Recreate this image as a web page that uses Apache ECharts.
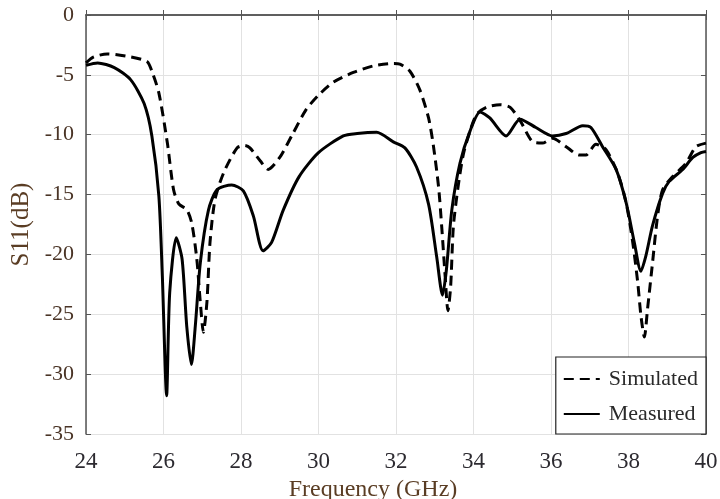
<!DOCTYPE html>
<html><head><meta charset="utf-8">
<script src="https://cdn.jsdelivr.net/npm/echarts@6/dist/echarts.min.js"></script>
<style>html,body{margin:0;padding:0;background:#fff}#c{width:720px;height:499px}</style>
</head><body><div id="c"></div>
<script>
var simFreq = [24,24.2,24.55,25.15,25.58,25.7,25.88,26.1,26.26,26.4,26.6,26.73,26.86,26.95,27.03,27.12,27.2,27.33,27.55,27.9,28.1,28.23,28.5,28.7,29.0,29.34,29.68,30.0,30.39,30.9,31.42,31.93,32.1,32.36,32.62,32.84,32.96,33.1,33.18,33.27,33.34,33.41,33.48,33.6,33.74,33.91,34.08,34.34,34.69,34.94,35.2,35.53,35.78,36.04,36.39,36.73,36.9,37.16,37.42,37.72,37.94,38.11,38.24,38.32,38.41,38.49,38.62,38.75,38.88,39.14,39.48,39.74,40];
var simS11 = [-4.0,-3.5,-3.25,-3.5,-3.9,-4.7,-6.5,-10.7,-14.6,-15.8,-16.25,-17.4,-20.4,-24,-26.5,-24,-19,-15.4,-13.2,-11.1,-10.9,-11.1,-12.2,-12.9,-11.9,-9.9,-7.9,-6.7,-5.6,-4.8,-4.25,-4.05,-4.1,-4.7,-6.3,-8.6,-10.8,-14.4,-17.7,-21.9,-24.7,-22.7,-17.7,-14.4,-11.6,-9.7,-8.3,-7.7,-7.5,-7.7,-8.8,-10.6,-10.7,-10.3,-11,-11.7,-11.7,-10.8,-11.25,-13.2,-15.7,-19,-22.4,-25.1,-26.9,-24.6,-20.7,-16.8,-14.6,-13.5,-12.4,-11,-10.7];
var measFreq = [24.0,24.3,24.73,25.15,25.5,25.7,25.88,25.97,26.08,26.16,26.33,26.48,26.6,26.72,26.82,26.95,27.16,27.38,27.76,28.06,28.32,28.57,28.79,29.09,29.5,30.0,30.64,31.0,31.5,31.93,32.23,32.53,32.84,33.05,33.2,33.3,33.44,33.65,33.91,34.17,34.42,34.84,35.2,35.61,36.04,36.39,36.82,37.03,37.33,37.68,37.94,38.15,38.32,38.45,38.62,38.88,39.05,39.4,39.66,39.87,40];
var measS11 = [-4.2,-4.0,-4.4,-5.4,-7.4,-10.1,-15.1,-21.8,-31.8,-23.2,-18.6,-20.4,-26,-29.2,-26,-20.7,-16.3,-14.6,-14.2,-14.7,-16.8,-19.7,-19.0,-16.3,-13.5,-11.5,-10.1,-9.9,-9.8,-10.6,-11.1,-12.7,-15.8,-20.2,-23.4,-21.3,-16.3,-12.4,-9.7,-8.1,-8.6,-10.1,-8.7,-9.4,-10.1,-9.9,-9.25,-9.4,-11,-12.9,-15.7,-19,-21.4,-20.1,-17.6,-14.9,-13.9,-12.9,-11.9,-11.5,-11.4];
var xTicks = [24,26,28,30,32,34,36,38,40];
var yTicks = [0,-5,-10,-15,-20,-25,-30,-35];

function pairs(xs, ys){ return xs.map(function(x,i){ return [x, ys[i]]; }); }

var FONT = 'Liberation Serif';
var chart = echarts.init(document.getElementById('c'), null, {renderer:'canvas'});
var axisLineStyle = {color:'#555', width:1.5};
chart.setOption({
  animation:false,
  backgroundColor:'#fff',
  grid:{left:86, right:14, top:15, bottom:65, containLabel:false, outerBoundsMode:'none'},
  legend:{
    right:14, bottom:65, orient:'vertical',
    padding:[11,8,9,7], itemGap:13,
    itemWidth:36, itemHeight:18,
    backgroundColor:'#fff', borderColor:'#222', borderWidth:1.2, borderRadius:0,
    itemStyle:{opacity:0},
    textStyle:{fontFamily:FONT, fontSize:22, color:'#2a2a2a', padding:[0,0,0,4]},
    data:['Simulated','Measured']
  },
  xAxis:[{
    type:'value', min:24, max:40, interval:2,
    name:'Frequency (GHz)', nameLocation:'middle', nameGap:36,
    nameTextStyle:{fontFamily:FONT, fontSize:24, color:'#5a3d24', padding:[0,46,0,0]},
    axisLine:{lineStyle:axisLineStyle}, axisTick:{inside:true, length:5, lineStyle:{color:'#555'}},
    axisLabel:{fontFamily:FONT, fontSize:23, color:'#2c2a30', margin:16,
      formatter:function(v){ return xTicks.indexOf(v)>=0 ? String(v) : ''; }},
    splitLine:{lineStyle:{color:'#e2e2e2', width:1}}
  },{
    type:'value', min:24, max:40, interval:2, position:'top',
    axisLine:{lineStyle:axisLineStyle}, axisTick:{inside:true, length:5, lineStyle:{color:'#555'}},
    axisLabel:{show:false}, splitLine:{show:false}
  }],
  yAxis:[{
    type:'value', min:-35, max:0, interval:5,
    name:'S11(dB)', nameLocation:'middle', nameGap:49,
    nameTextStyle:{fontFamily:FONT, fontSize:25, color:'#5a3d24'},
    axisLine:{show:true, lineStyle:axisLineStyle}, axisTick:{show:true, inside:true, length:5, lineStyle:{color:'#555'}},
    axisLabel:{fontFamily:FONT, fontSize:22, color:'#4a3426', margin:12,
      formatter:function(v){ return yTicks.indexOf(v)>=0 ? String(v) : ''; }},
    splitLine:{lineStyle:{color:'#e2e2e2', width:1}}
  },{
    type:'value', min:-35, max:0, interval:5, position:'right',
    axisLine:{show:true, lineStyle:axisLineStyle}, axisTick:{show:true, inside:true, length:5, lineStyle:{color:'#555'}},
    axisLabel:{show:false}, splitLine:{show:false}
  }],
  series:[{
    name:'Simulated', type:'line', data:pairs(simFreq, simS11),
    symbol:'none', smooth:0.25, color:'#000',
    lineStyle:{color:'#000', width:3, type:[10,6]}, z:3
  },{
    name:'Measured', type:'line', data:pairs(measFreq, measS11),
    symbol:'none', smooth:0.25, color:'#000',
    lineStyle:{color:'#000', width:3, type:'solid'}, z:4
  }]
});
</script></body></html>
